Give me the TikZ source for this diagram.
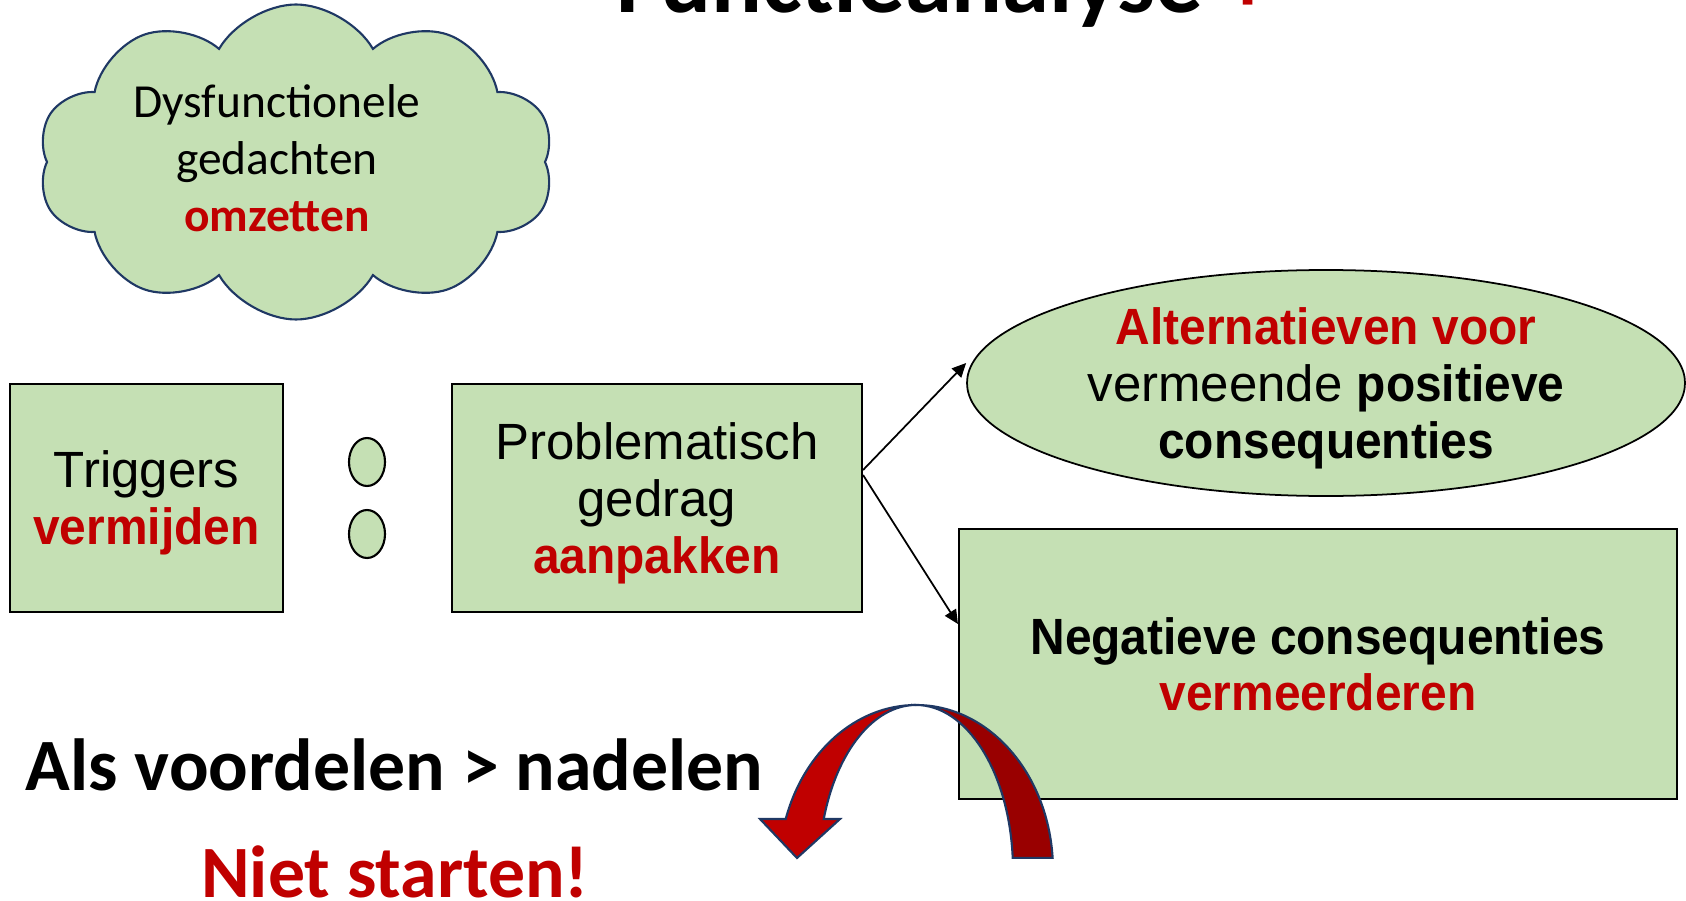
\documentclass[tikz,border=0pt]{standalone}
\usepackage{fontspec}
\setmainfont{Liberation Sans}
\newfontfamily\calibfont{Carlito}
\newfontfamily\narrowsans[FakeStretch=0.94]{Liberation Sans}
\usetikzlibrary{shapes.geometric,shapes.symbols,arrows.meta,positioning}
\definecolor{lgreen}{HTML}{C5E0B4}
\definecolor{dred}{HTML}{C00000}
\definecolor{ddred}{HTML}{990000}
\definecolor{navy}{HTML}{1F3864}
\newcommand{\bolder}[1]{{\narrowsans\bfseries #1}}
\newcommand{\redword}[1]{\textcolor{dred}{\bolder{#1}}}

\begin{document}
\begin{tikzpicture}[
  box/.style={rectangle,draw,fill=lgreen,line width=0.6pt,align=center,
    inner sep=0pt,text depth=0pt,font=\fontsize{14.5}{16.2}\selectfont},
  oval/.style={ellipse,draw,fill=lgreen,line width=0.5pt,align=center,
    inner sep=0pt,text depth=0pt,font=\fontsize{14.5}{16.2}\selectfont},
  dot/.style={ellipse,draw,fill=lgreen,line width=0.6pt,inner sep=0pt,
    minimum width=0.36cm,minimum height=0.48cm},
  big/.style={font=\calibfont\bfseries\fontsize{21}{25}\selectfont,
    inner sep=0pt,anchor=base},
  link/.style={-{Triangle[length=1.4mm,width=1.3mm]},line width=0.5pt}
]
\useasboundingbox (0,0) rectangle (16.86,9);
\clip (0,0) rectangle (16.86,9);

% Title, cut off at the top
\node[font=\calibfont\bfseries\fontsize{27}{32}\selectfont,inner sep=0pt,
  anchor=base west] (title) at (6.16,8.87) {Functieanalyse \textcolor{dred}{+}};

% Cloud
\node[cloud,cloud puffs=10,cloud puff arc=120,draw=navy,fill=lgreen,
  line width=0.6pt,minimum width=5.16cm,minimum height=3.15cm] (cloud) at (2.96,7.38) {};
\node[font=\calibfont\fontsize{13.5}{16.2}\selectfont,align=center,inner sep=0pt]
  (thoughts) at (2.77,7.42) {Dysfunctionele\\gedachten\\\textcolor{dred}{\textbf{omzetten}}};

% Chain
\node[box,minimum width=2.73cm,minimum height=2.28cm] (trig) at (1.465,4.02)
  {Triggers\\\redword{vermijden}};
\node[dot] (dot1) at (3.67,4.38) {};
\node[dot] (dot2) at (3.67,3.66) {};
\node[box,minimum width=4.10cm,minimum height=2.28cm] (prob) at (6.57,4.02)
  {Problematisch\\gedrag\\\redword{aanpakken}};
\node[oval,minimum width=7.18cm,minimum height=2.26cm] (alt) at (13.26,5.17)
  {\redword{Alternatieven voor}\\vermeende \bolder{positieve}\\\bolder{consequenties}};
\node[box,minimum width=7.18cm,minimum height=2.70cm] (neg) at (13.18,2.36)
  {\bolder{Negatieve consequenties}\\\redword{vermeerderen}};

\draw[link] ([yshift=2.8mm]prob.east) -- ([yshift=2mm]alt.west);
\draw[link] ([yshift=2.3mm]prob.east) -- ([yshift=4mm]neg.west);

% Curved arrow
\filldraw[fill=dred,draw=navy,line width=0.6pt] (7.857,0.81)
  arc[start angle=162,end angle=90,x radius=1.37,y radius=1.65]
  arc[start angle=90,end angle=162,x radius=0.97,y radius=1.65]
  -- (8.40,0.81) -- (7.97,0.42) -- (7.60,0.81) -- cycle;
\filldraw[fill=ddred,draw=navy,line width=0.6pt] (9.16,1.95)
  arc[start angle=90,end angle=4.2,x radius=1.37,y radius=1.65]
  -- (10.127,0.421)
  arc[start angle=4.2,end angle=90,x radius=0.97,y radius=1.65] -- cycle;

% Bottom text
\node[big] (rule) at (3.945,1.10) {Als voordelen > nadelen};
\node[big,text=dred] (stop) at (3.95,0.03) {Niet starten!};
\end{tikzpicture}
\end{document}
